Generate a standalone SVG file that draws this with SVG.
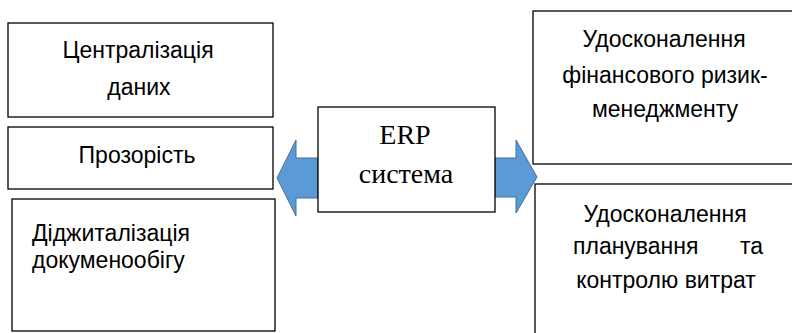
<svg xmlns="http://www.w3.org/2000/svg" width="792" height="333" viewBox="0 0 792 333">
  <style>
    .box { fill: #fff; stroke: #000; stroke-width: 1.3; }
    .lbl { font-family: "Liberation Sans", Arial, sans-serif; font-size: 23px; fill: #000; }
    .mid { text-anchor: middle; }
    .erp { font-family: "Liberation Serif", "Times New Roman", serif; font-size: 28px; fill: #000; text-anchor: middle; }
    .arrow { fill: #5B9BD5; stroke: #41719C; stroke-width: 1; }
  </style>

  <!-- block arrows pointing out of the central node -->
  <g id="connectors">
    <polygon class="arrow" points="277,178 296,140 296,158 318,158 318,198 296,198 296,216"/>
    <polygon class="arrow" points="495,158 516,158 516,140 537,177 516,213 516,197 495,197"/>
  </g>

  <g id="centralization">
    <rect class="box" x="8" y="23" width="265" height="94"/>
    <text class="lbl mid" x="138" y="58">Централізація</text>
    <text class="lbl mid" x="139" y="95">даних</text>
  </g>

  <g id="transparency">
    <rect class="box" x="8" y="127" width="265" height="62"/>
    <text class="lbl mid" x="137" y="163">Прозорість</text>
  </g>

  <g id="digitalization">
    <rect class="box" x="12" y="199" width="263" height="132"/>
    <text class="lbl" x="32" y="241">Діджиталізація</text>
    <text class="lbl" x="32" y="268">докуменообігу</text>
  </g>

  <g id="erp">
    <rect class="box" x="318" y="107" width="177" height="105"/>
    <text class="erp" x="405" y="144">ERP</text>
    <text class="erp" x="406" y="183">система</text>
  </g>

  <g id="risk-management">
    <rect class="box" x="533" y="11" width="270" height="153"/>
    <text class="lbl mid" x="664" y="47">Удосконалення</text>
    <text class="lbl mid" x="665" y="83">фінансового ризик-</text>
    <text class="lbl mid" x="665" y="117">менеджменту</text>
  </g>

  <g id="cost-planning">
    <rect class="box" x="535" y="184" width="270" height="160"/>
    <text class="lbl mid" x="665" y="222">Удосконалення</text>
    <text class="lbl" x="573" y="254">планування</text>
    <text class="lbl" x="763" y="254" text-anchor="end">та</text>
    <text class="lbl mid" x="666" y="288">контролю витрат</text>
  </g>
</svg>
